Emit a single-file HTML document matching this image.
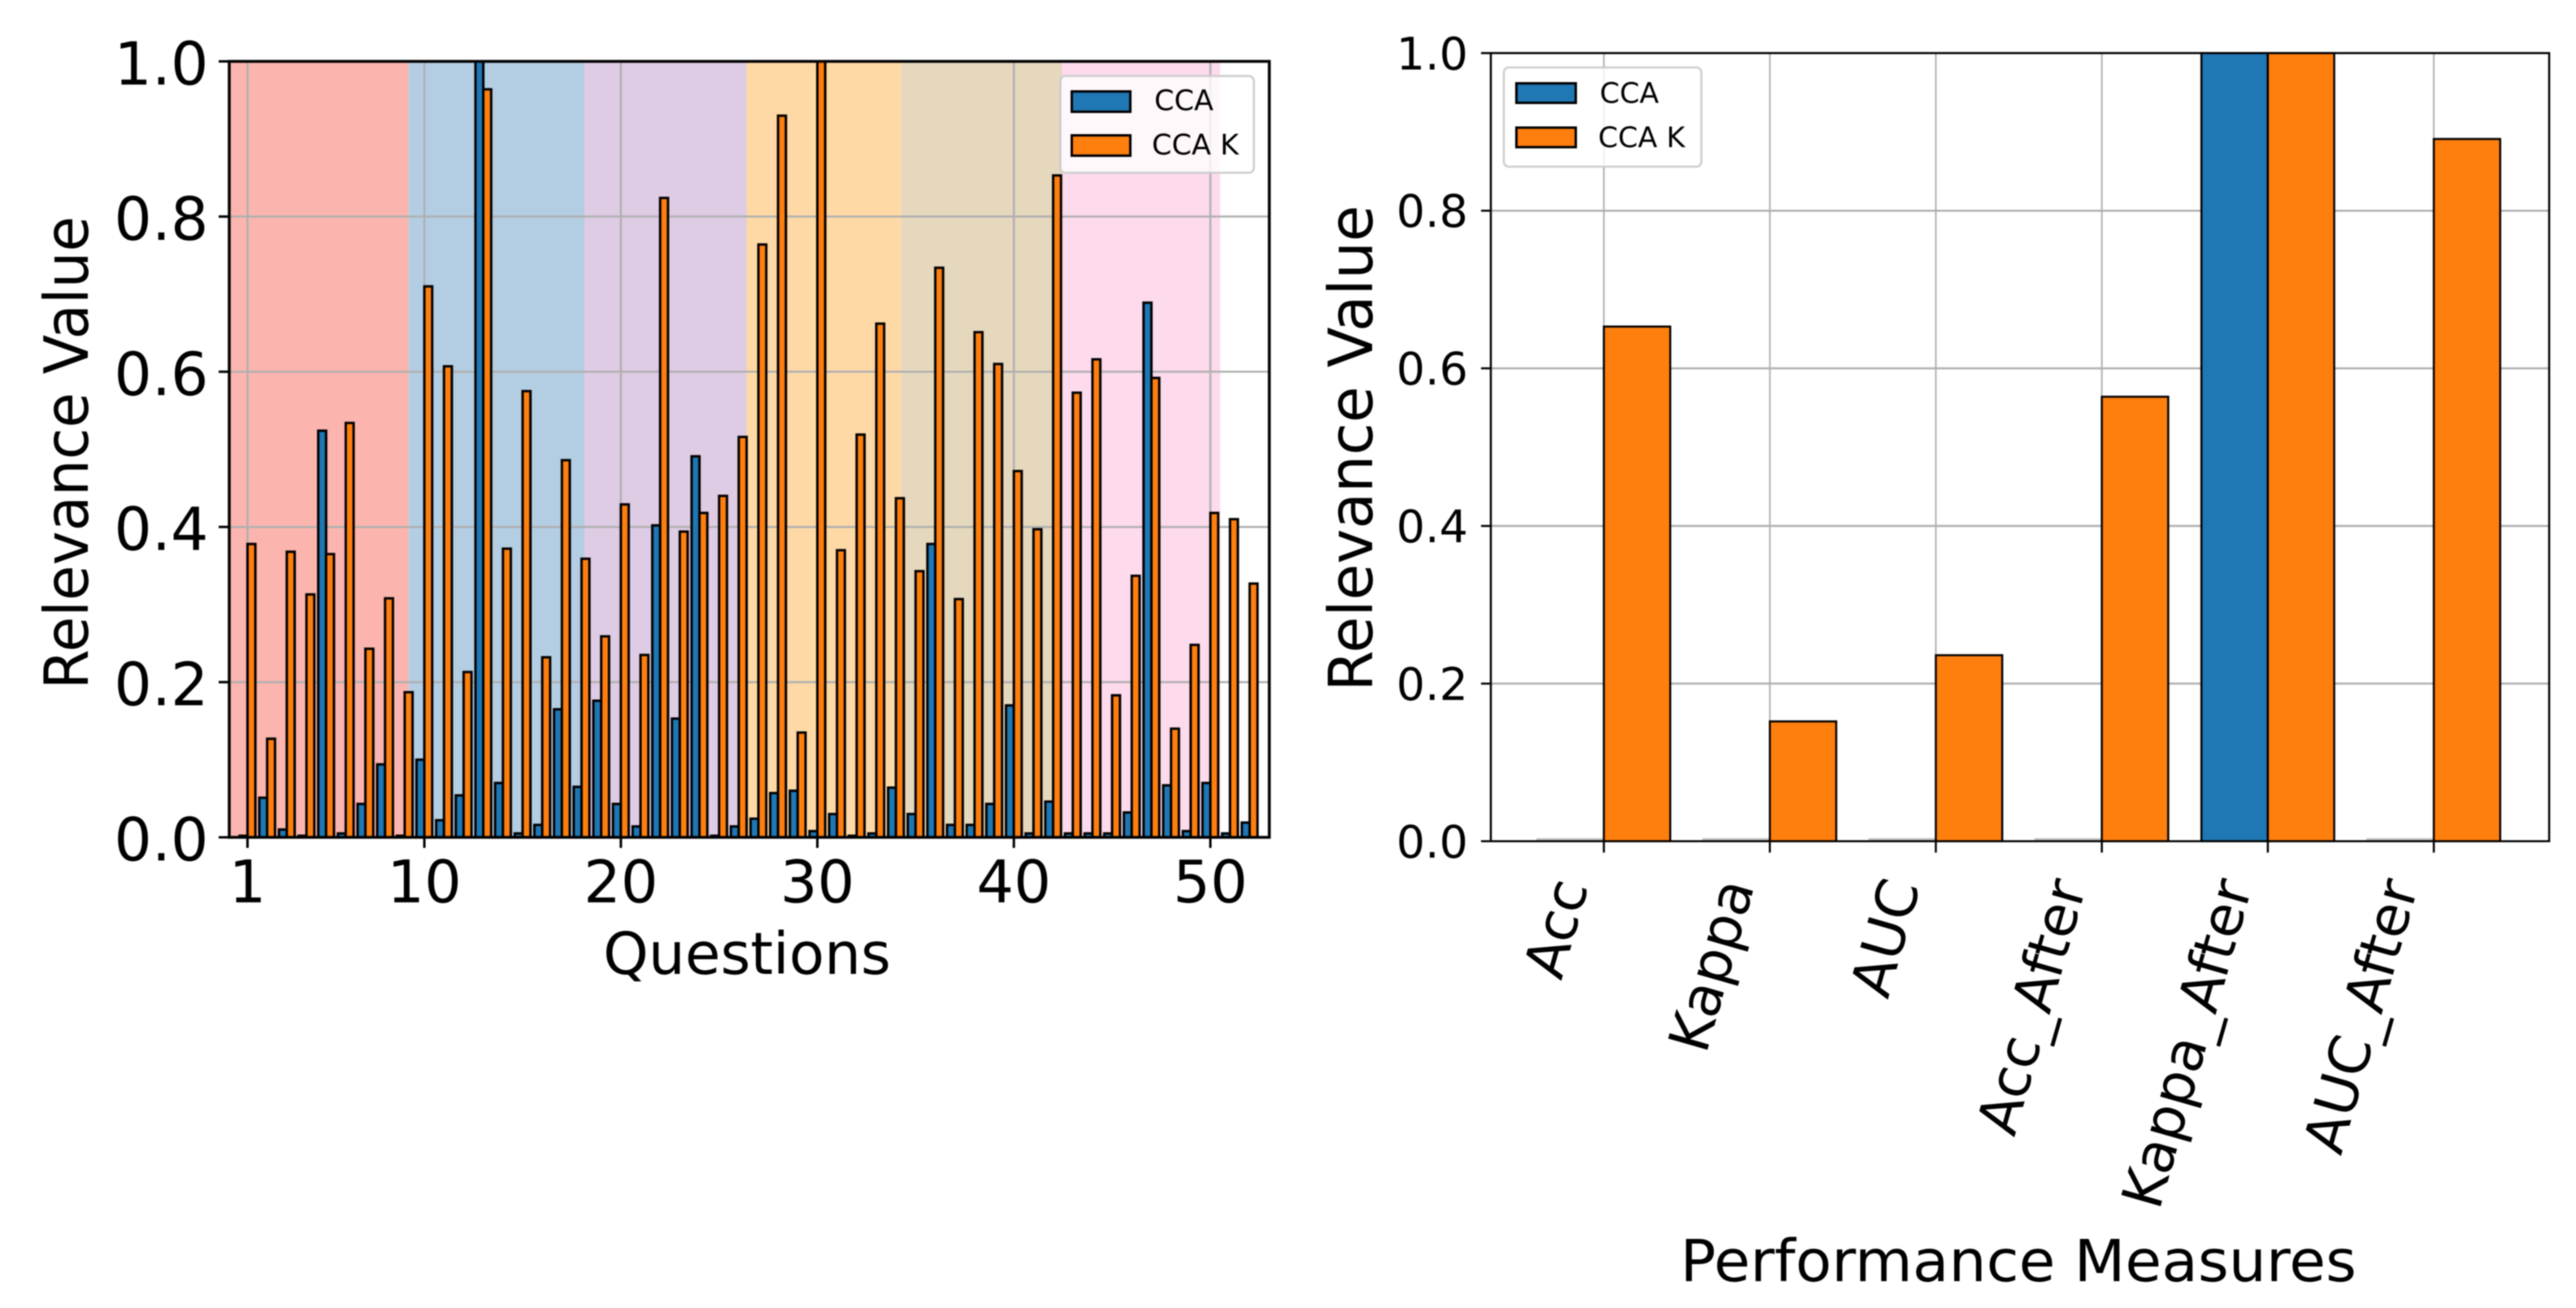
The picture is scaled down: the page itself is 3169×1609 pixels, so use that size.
<!DOCTYPE html>
<html lang="en">
<head>
<meta charset="utf-8">
<title>Relevance values for questions and performance measures</title>
<style>
  html, body { margin: 0; padding: 0; background: #fff; }
  body { width: 3169px; height: 1609px; overflow: hidden; }
  svg { display: block; filter: blur(0.7px); }
  text { font-family: "DejaVu Sans", "Liberation Sans", sans-serif; fill: #000; }
</style>
</head>
<body>
<svg id="figure" xmlns="http://www.w3.org/2000/svg" width="3169" height="1609" viewBox="0 0 3169 1609">
  <rect x="0" y="0" width="3169" height="1609" fill="#fff"/>
  <g id="left-chart">
    <g id="left-spans"></g>
    <g id="left-grid"></g>
    <g id="left-bars"></g>
    <g id="left-axes"></g>
    <text transform="translate(108 557) rotate(-90)" text-anchor="middle" font-size="75" textLength="582" lengthAdjust="spacingAndGlyphs">Relevance Value</text>
    <text x="919" y="1198" text-anchor="middle" font-size="71" textLength="354" lengthAdjust="spacingAndGlyphs">Questions</text>
    <g>
      <rect x="1304.5" y="93.5" width="238" height="119" rx="6" ry="6" fill="#fff" fill-opacity="0.8" stroke="#ccc" stroke-width="2.5"/>
      <rect x="1318.5" y="112.5" width="72" height="25" fill="#1f77b4" stroke="#000" stroke-width="3"/>
      <text x="1420" y="135.5" font-size="35">CCA</text>
      <rect x="1318.5" y="166.5" width="72" height="25" fill="#ff7f0e" stroke="#000" stroke-width="3"/>
      <text x="1417" y="190" font-size="35">CCA K</text>
    </g>
  </g>
  <g id="right-chart">
    <g id="right-grid"></g>
    <g id="right-bars"></g>
    <g id="right-axes"></g>
    <text transform="translate(1688 551.5) rotate(-90)" text-anchor="middle" font-size="75" textLength="598" lengthAdjust="spacingAndGlyphs">Relevance Value</text>
    <text x="2483" y="1576" text-anchor="middle" font-size="71" textLength="832" lengthAdjust="spacingAndGlyphs">Performance Measures</text>
    <g>
      <rect x="1850" y="83" width="243" height="122" rx="6" ry="6" fill="#fff" fill-opacity="0.8" stroke="#ccc" stroke-width="2.5"/>
      <rect x="1865.5" y="102.5" width="73" height="24" fill="#1f77b4" stroke="#000" stroke-width="3"/>
      <text x="1968" y="126.5" font-size="35">CCA</text>
      <rect x="1865.5" y="157" width="73" height="24" fill="#ff7f0e" stroke="#000" stroke-width="3"/>
      <text x="1966" y="181" font-size="35">CCA K</text>
    </g>
  </g>
</svg>
<script>
// ---- Left chart data ----
const questionNumbers = [1,2,3,4,5,6,7,8,9,10,11,12,13,14,15,16,17,18,19,20,21,22,23,24,25,26,27,28,29,30,31,32,33,34,35,36,37,38,39,40,41,42,43,44,45,46,47,48,49,50,51,52];
const questionCca = [0.002,0.051,0.010,0.002,0.524,0.005,0.043,0.094,0.002,0.100,0.022,0.054,1.000,0.070,0.005,0.016,0.165,0.065,0.176,0.043,0.014,0.402,0.153,0.491,0.002,0.014,0.024,0.057,0.060,0.008,0.030,0.002,0.005,0.064,0.030,0.378,0.016,0.016,0.043,0.170,0.005,0.046,0.005,0.005,0.005,0.032,0.689,0.067,0.008,0.070,0.005,0.019];
const questionCcaK = [0.378,0.127,0.368,0.313,0.365,0.534,0.243,0.308,0.187,0.710,0.607,0.213,0.964,0.372,0.575,0.232,0.486,0.359,0.259,0.429,0.235,0.824,0.394,0.418,0.440,0.516,0.764,0.930,0.135,1.000,0.370,0.519,0.662,0.437,0.343,0.734,0.307,0.651,0.610,0.472,0.397,0.853,0.573,0.616,0.183,0.337,0.592,0.140,0.248,0.418,0.410,0.327];
const questionTicks = [1,10,20,30,40,50];
const questionGroupEnds = [9.2,18.15,26.4,34.27,42.46,50.5];
const valueTicks = [0,0.2,0.4,0.6,0.8,1];
const valueTickLabels = ["0.0","0.2","0.4","0.6","0.8","1.0"];

// ---- Right chart data ----
const measureNames = ["Acc","Kappa","AUC","Acc_After","Kappa_After","AUC_After"];
const measureCca = [0,0,0,0,1,0];
const measureCcaK = [0.653,0.152,0.236,0.564,1,0.891];

// ---- Styling and scales ----
const NS = "http://www.w3.org/2000/svg";
const BLUE = "#1f77b4", ORANGE = "#ff7f0e", GRID = "#b0b0b0";
const groupColors = ["#fbb4ae","#b3cde3","#decbe4","#fed9a6","#e5d8bd","#fddaec"];
const BAR_WIDTH = 0.4;

const leftBox = { x0: 282, x1: 1561.5, y0: 1030, y1: 75.5, dMin: 0.07, dMax: 53.0 };
const rightBox = { x0: 1834, x1: 3136, y0: 1034.8, y1: 65.3, dMin: -0.681, dMax: 5.695 };
function xAxis(box, v) { return box.x0 + (v - box.dMin) * (box.x1 - box.x0) / (box.dMax - box.dMin); }
function yAxis(box, v) { return box.y0 + v * (box.y1 - box.y0); }

function make(tag, attrs, parent) {
  const el = document.createElementNS(NS, tag);
  for (const k in attrs) el.setAttribute(k, attrs[k]);
  parent.appendChild(el);
  return el;
}

function drawBars(box, layer, positions, values, color, side, strokeWidth, seriesName) {
  const w = xAxis(box, BAR_WIDTH) - xAxis(box, 0);
  positions.forEach(function (p, i) {
    const left = side < 0 ? xAxis(box, p) - w : xAxis(box, p);
    const top = yAxis(box, values[i]);
    const isFlat = values[i] === 0;
    const el = make("rect", {
      x: left, y: isFlat ? box.y0 - 2.5 : top, width: w,
      height: isFlat ? 0.01 : box.y0 - top,
      fill: color,
      stroke: isFlat ? "#c4c4c4" : "#000",
      "stroke-width": strokeWidth
    }, layer);
    
    
  });
}

function drawHorizontalGrid(box, layer, width) {
  valueTicks.forEach(function (v) {
    if (v === 0 || v === 1) return;
    const y = yAxis(box, v);
    const el = make("line", { x1: box.x0, x2: box.x1, y1: y, y2: y, stroke: GRID, "stroke-width": width }, layer);
    
    
  });
}

function drawFrame(box, layer, width) {
  const el = make("rect", { x: box.x0, y: box.y1, width: box.x1 - box.x0, height: box.y0 - box.y1, fill: "none", stroke: "#000", "stroke-width": width }, layer);
  
  
}

function drawValueTicks(box, layer, tickLen, tickWidth, labelX, fontSize, baselineShift) {
  valueTicks.forEach(function (v, i) {
    const y = yAxis(box, v);
    const tick = make("line", { x1: box.x0 - tickLen, x2: box.x0, y1: y, y2: y, stroke: "#000", "stroke-width": tickWidth }, layer);
    
    
    const label = make("text", { x: labelX, y: y + baselineShift, "text-anchor": "end", "font-size": fontSize }, layer);
    label.textContent = valueTickLabels[i];
    
    
  });
}

// ---- Left chart ----
const leftSpans = document.getElementById("left-spans");
const leftGrid = document.getElementById("left-grid");
const leftBars = document.getElementById("left-bars");
const leftAxes = document.getElementById("left-axes");

questionGroupEnds.forEach(function (end, i) {
  const start = i === 0 ? leftBox.dMin : questionGroupEnds[i - 1];
  const x0 = xAxis(leftBox, start);
  const x1 = xAxis(leftBox, end);
  const el = make("rect", { x: x0, y: leftBox.y1, width: x1 - x0, height: leftBox.y0 - leftBox.y1, fill: groupColors[i] }, leftSpans);
  
  
});

questionTicks.forEach(function (q) {
  const x = xAxis(leftBox, q);
  const grid = make("line", { x1: x, x2: x, y1: leftBox.y0, y2: leftBox.y1, stroke: GRID, "stroke-width": 2.5 }, leftGrid);
  
  
  const tick = make("line", { x1: x, x2: x, y1: leftBox.y0, y2: leftBox.y0 + 13, stroke: "#000", "stroke-width": 3 }, leftAxes);
  
  
  const label = make("text", { x: x, y: 1110, "text-anchor": "middle", "font-size": 72 }, leftAxes);
  label.textContent = String(q);
  
  
});
drawHorizontalGrid(leftBox, leftGrid, 2.5);
drawBars(leftBox, leftBars, questionNumbers, questionCca, BLUE, -1, 3, 'bar-cca');
drawBars(leftBox, leftBars, questionNumbers, questionCcaK, ORANGE, 1, 3, 'bar-cca-k');
drawFrame(leftBox, leftAxes, 3.5);
drawValueTicks(leftBox, leftAxes, 13, 3, 256.5, 73, 28.5);

// ---- Right chart ----
const rightGrid = document.getElementById("right-grid");
const rightBars = document.getElementById("right-bars");
const rightAxes = document.getElementById("right-axes");
const measureIndex = measureNames.map(function (_, i) { return i; });

measureNames.forEach(function (name, i) {
  const x = xAxis(rightBox, i);
  const grid = make("line", { x1: x, x2: x, y1: rightBox.y0, y2: rightBox.y1, stroke: GRID, "stroke-width": 2 }, rightGrid);
  
  
  const tick = make("line", { x1: x, x2: x, y1: rightBox.y0, y2: rightBox.y0 + 14, stroke: "#000", "stroke-width": 2.5 }, rightAxes);
  
  
  const label = make("text", { transform: "translate(" + (x - 19) + " 1090) rotate(-74)", "text-anchor": "end", "font-size": 69 }, rightAxes);
  label.textContent = name;
  
  
});
drawHorizontalGrid(rightBox, rightGrid, 2.5);
drawBars(rightBox, rightBars, measureIndex, measureCca, BLUE, -1, 2.5, 'bar-cca');
drawBars(rightBox, rightBars, measureIndex, measureCcaK, ORANGE, 1, 2.5, 'bar-cca-k');
drawFrame(rightBox, rightAxes, 2.5);
drawValueTicks(rightBox, rightAxes, 12, 2.5, 1806, 55.5, 20);
</script>
</body>
</html>
